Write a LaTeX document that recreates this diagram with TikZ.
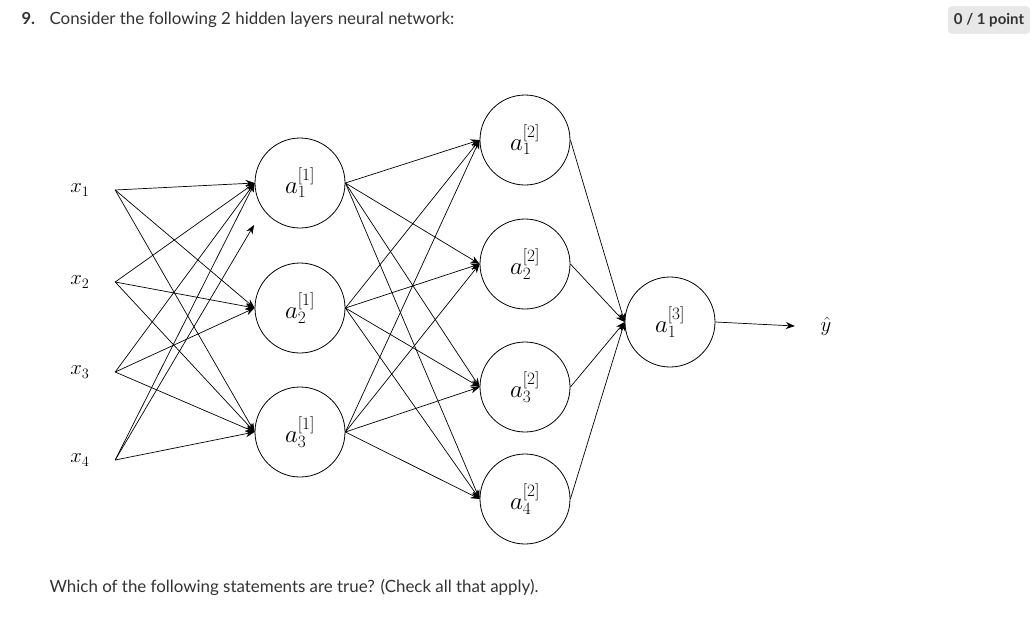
\documentclass[tikz,border=0pt]{standalone}
\usepackage[no-math]{fontspec}
\setmainfont{Lato}
\usetikzlibrary{arrows.meta}
\definecolor{qtext}{HTML}{333333}
\definecolor{badge}{HTML}{E8E8E8}

\begin{document}
\begin{tikzpicture}[x=1pt,y=-1pt,
    neuron/.style={draw=black,circle,line width=0.8pt,minimum size=90pt,inner sep=0pt,font=\fontsize{23}{26}\selectfont},
    inp/.style={minimum width=70pt,inner sep=0pt,font=\fontsize{21}{24}\selectfont},
    wire/.style={-{Stealth[length=9pt,width=7pt]},line width=0.7pt}]
    \useasboundingbox (0,0) rectangle (1036,619);
    % question text
    \node [anchor=base west,text=qtext,font=\fontsize{16.5}{19}\selectfont\bfseries] (num) at (18,24) {9.};
    \node [anchor=base west,text=qtext,font=\fontsize{16.9}{20}\selectfont] (ask) at (46,24) {Consider the following 2 hidden layers neural network:};
    \node [fill=badge,rounded corners=4pt,minimum width=82pt,minimum height=28pt,inner sep=0pt,text=qtext,font=\fontsize{15}{18}\selectfont\bfseries] (score) at (989,20) {0 / 1 point};
    \node [anchor=base west,text=qtext,font=\fontsize{16.9}{20}\selectfont] (which) at (46,592) {Which of the following statements are true? (Check all that apply).};
    % inputs
    \node [inp] (x1) at (80,190) {$x_1$};
    \node [inp] (x2) at (80,282) {$x_2$};
    \node [inp] (x3) at (80,372) {$x_3$};
    \node [inp] (x4) at (80,460) {$x_4$};
    % hidden layer 1
    \node [neuron] (h1) at (300,183) {$a^{[1]}_1$};
    \node [neuron] (h2) at (300,308) {$a^{[1]}_2$};
    \node [neuron] (h3) at (300,432) {$a^{[1]}_3$};
    \coordinate (loose) at (254,225);
    % hidden layer 2
    \node [neuron] (g1) at (525,140) {$a^{[2]}_1$};
    \node [neuron] (g2) at (525,264) {$a^{[2]}_2$};
    \node [neuron] (g3) at (525,387) {$a^{[2]}_3$};
    \node [neuron] (g4) at (525,499) {$a^{[2]}_4$};
    % output
    \node [neuron] (out) at (670,322) {$a^{[3]}_1$};
    \node [inp,minimum width=62pt] (yhat) at (826,326) {$\hat{y}$};
    % inputs to layer 1
    \draw [wire] (x1.east) -- (h1.west);
    \draw [wire] (x1.east) -- (h2.west);
    \draw [wire] (x1.east) -- (h3.west);
    \draw [wire] (x2.east) -- (h1.west);
    \draw [wire] (x2.east) -- (h2.west);
    \draw [wire] (x2.east) -- (h3.west);
    \draw [wire] (x3.east) -- (h1.west);
    \draw [wire] (x3.east) -- (h2.west);
    \draw [wire] (x3.east) -- (h3.west);
    \draw [wire] (x4.east) -- (h1.west);
    \draw [wire] (x4.east) -- (loose);
    \draw [wire] (x4.east) -- (h3.west);
    % layer 1 to layer 2
    \draw [wire] (h1.east) -- (g1.west);
    \draw [wire] (h1.east) -- (g2.west);
    \draw [wire] (h1.east) -- (g3.west);
    \draw [wire] (h1.east) -- (g4.west);
    \draw [wire] (h2.east) -- (g1.west);
    \draw [wire] (h2.east) -- (g2.west);
    \draw [wire] (h2.east) -- (g3.west);
    \draw [wire] (h2.east) -- (g4.west);
    \draw [wire] (h3.east) -- (g1.west);
    \draw [wire] (h3.east) -- (g2.west);
    \draw [wire] (h3.east) -- (g3.west);
    \draw [wire] (h3.east) -- (g4.west);
    % layer 2 to output
    \draw [wire] (g1.east) -- (out.west);
    \draw [wire] (g2.east) -- (out.west);
    \draw [wire] (g3.east) -- (out.west);
    \draw [wire] (g4.east) -- (out.west);
    \draw [wire] (out.east) -- (yhat.west);
\end{tikzpicture}
\end{document}
